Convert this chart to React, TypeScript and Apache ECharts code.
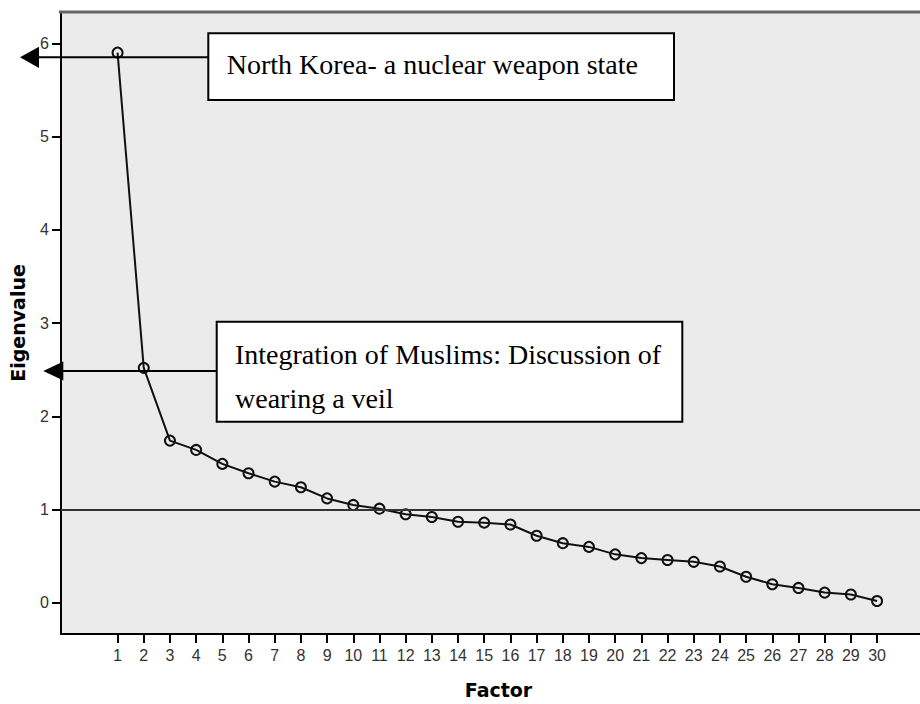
import React, { useEffect, useRef } from "react";
import * as echarts from "echarts";

const factors = [1, 2, 3, 4, 5, 6, 7, 8, 9, 10, 11, 12, 13, 14, 15, 16, 17, 18, 19, 20, 21, 22, 23, 24, 25, 26, 27, 28, 29, 30];
const eigenvalues = [5.9, 2.52, 1.74, 1.64, 1.49, 1.39, 1.3, 1.24, 1.12, 1.05, 1.01, 0.95, 0.92, 0.87, 0.86, 0.84, 0.72, 0.64, 0.6, 0.52, 0.48, 0.46, 0.44, 0.39, 0.28, 0.2, 0.16, 0.11, 0.09, 0.02];
const yTicks = [0, 1, 2, 3, 4, 5, 6];
const referenceValue = 1;
const annotationTop = "North Korea- a nuclear weapon state";
const annotationBottom = "Integration of Muslims: Discussion of\nwearing a veil";

export default function App() {
  const ref = useRef<HTMLDivElement>(null);
  useEffect(() => {
    if (!ref.current) return;
    const chart = echarts.init(ref.current, null, { renderer: "svg" });
    const sans = "DejaVu Sans";
    const tickFont = "Liberation Sans";
    const serif = "Liberation Serif";
    chart.setOption({
      animation: false,
      backgroundColor: "#ffffff",
      grid: { left: 59, right: 0, top: 12, bottom: 67, show: true, backgroundColor: "#ebebeb", borderWidth: 0 },
      xAxis: {
        type: "value",
        min: -1.16,
        max: 31.64,
        name: "Factor",
        nameLocation: "middle",
        nameGap: 46,
        nameTextStyle: { fontFamily: sans, fontWeight: "bold", fontSize: 19, color: "#000", padding: [0, 0, 0, 16] },
        axisLine: { onZero: false, lineStyle: { color: "#000", width: 2 } },
        axisTick: { show: true, length: 9, customValues: factors, lineStyle: { color: "#000", width: 2 } },
        axisLabel: { customValues: factors, margin: 13, fontFamily: tickFont, fontSize: 16, color: "#333" },
        splitLine: { show: false },
      },
      yAxis: {
        type: "value",
        min: -0.334,
        max: 6.336,
        name: "Eigenvalue",
        nameLocation: "middle",
        nameRotate: 90,
        nameGap: 34,
        nameTextStyle: { fontFamily: sans, fontWeight: "bold", fontSize: 19, color: "#000" },
        axisLine: { onZero: false, lineStyle: { color: "#000", width: 2 } },
        axisTick: { show: true, length: 9, customValues: yTicks, lineStyle: { color: "#000", width: 2 } },
        axisLabel: { customValues: yTicks, margin: 12, fontFamily: tickFont, fontSize: 16, color: "#333" },
        splitLine: { show: false },
      },
      series: [
        {
          type: "line",
          data: factors.map((f, i) => [f, eigenvalues[i]]),
          symbol: "circle",
          symbolSize: 10,
          lineStyle: { color: "#111", width: 2 },
          itemStyle: { color: "transparent", borderColor: "#111", borderWidth: 2 },
          markLine: {
            silent: true,
            symbol: "none",
            label: { show: false },
            lineStyle: { color: "#333", width: 2, type: "solid" },
            data: [{ yAxis: referenceValue }],
          },
        },
      ],
      graphic: [
        { type: "line", z: 100, shape: { x1: 59, y1: 12, x2: 920, y2: 12 }, style: { stroke: "#666", lineWidth: 3 } },
        { type: "line", z: 100, shape: { x1: 38, y1: 57.3, x2: 208.3, y2: 57.3 }, style: { stroke: "#000", lineWidth: 2 } },
        { type: "polygon", z: 100, shape: { points: [[20, 57.3], [39, 46.7], [39, 67.9]] }, style: { fill: "#000" } },
        { type: "rect", z: 100, shape: { x: 208.3, y: 33.3, width: 465.7, height: 66.7 }, style: { fill: "#fff", stroke: "#000", lineWidth: 2 } },
        { type: "text", z: 101, x: 226.7, y: 64, style: { text: annotationTop, font: `28px "${serif}"`, fill: "#000", verticalAlign: "middle" } },
        { type: "line", z: 100, shape: { x1: 62, y1: 371, x2: 216.7, y2: 371 }, style: { stroke: "#000", lineWidth: 2 } },
        { type: "polygon", z: 100, shape: { points: [[43.3, 371], [63.3, 361.5], [63.3, 380.5]] }, style: { fill: "#000" } },
        { type: "rect", z: 100, shape: { x: 216.7, y: 321.7, width: 465.6, height: 100 }, style: { fill: "#fff", stroke: "#000", lineWidth: 2 } },
        { type: "text", z: 101, x: 235, y: 332.3, style: { text: annotationBottom, font: `28px "${serif}"`, lineHeight: 44, fill: "#000", verticalAlign: "top" } },
      ],
    });
    return () => chart.dispose();
  }, []);
  return <div ref={ref} style={{ position: "fixed", left: 0, top: 0, width: 920, height: 704 }} />;
}
